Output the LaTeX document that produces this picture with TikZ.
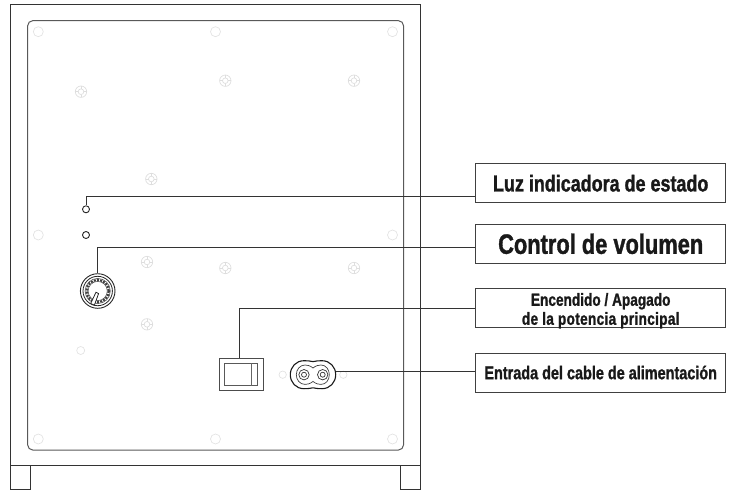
\documentclass[tikz,border=0pt]{standalone}
\usepackage{fontspec}
\newfontfamily\lblfont[FakeStretch=0.78,FakeBold=1.2]{Liberation Sans Bold}
\newcommand{\track}[1]{\addfontfeature{LetterSpace=#1}}
\tikzset{x=1pt,y=-1pt,
 line/.style={draw=black!80,line width=0.9pt},
 lbl/.style={draw=black!75,line width=0.9pt,inner sep=0pt,align=center,text=black!90,minimum width=250pt,minimum height=39pt},
 pale/.style={draw=black!13,line width=0.7pt},
 paler/.style={draw=black!11,line width=0.7pt},
 leader/.style={draw=black!80,line width=0.8pt},
 dot/.style={circle,draw=black!85,line width=0.9pt,minimum size=7pt,inner sep=0pt}}
\newcommand{\screw}[2]{%
 \draw[pale] (#1,#2) circle (5.7);
 \draw[pale] (#1,#2) circle (2.8);
 \draw[pale] (#1-5.7,#2) -- (#1-2.8,#2) (#1+2.8,#2) -- (#1+5.7,#2) (#1,#2-5.7) -- (#1,#2-2.8) (#1,#2+2.8) -- (#1,#2+5.7);}
\begin{document}
\begin{tikzpicture}
\useasboundingbox (0,0) rectangle (733,493);
% cabinet
\draw[line] (10.7,4.3) rectangle (420.5,465.3);
\draw[line] (10.7,465.3) rectangle (30.3,489);
\draw[line] (400.7,465.3) rectangle (420.5,489);
\draw[draw=black!65,line width=1pt,rounded corners=5pt] (27.7,20.7) rectangle (403.5,450);
% holes
\foreach \x/\y in {38.3/31.7,215.5/31.7,392.5/31.7,38.3/235,392.5/235,38.3/439,215.5/439,392.5/439} { \draw[paler] (\x,\y) circle (5); }
\draw[paler] (80.7,350.5) circle (4);
\draw[paler] (282.7,374.7) circle (3.7);
\draw[paler] (343.3,374.7) circle (3.7);
\foreach \x/\y in {81/91.7,225.3/80.7,354/80.7,151.3/179,147/262,225.3/268,354/268,147/324.3} { \screw{\x}{\y} }
% LEDs
\node[dot] (led) at (86,209.3) {};
\node[dot] (ledb) at (86,235) {};
% knob
\node[circle,draw=black!85,line width=0.9pt,minimum size=34.6pt,inner sep=0pt] (knob) at (97.7,291) {};
\draw[black!85,line width=0.8pt] (knob.center) circle (14.7);
\draw[black!75,line width=0.5pt] (knob.center) circle (12.6);
\draw[black!75,line width=0.5pt] (knob.center) circle (9.6);
\draw[black!75,line width=2.2pt,dash pattern=on 2pt off 1.2pt] (knob.center) circle (11.1);
\draw[black!85,line width=0.8pt,fill=white] (90.7,303.5) -- (94.4,305.2) -- (98.6,293.5) -- (96,292.2) -- cycle;
% switch
\node[draw=black!70,line width=0.9pt,minimum width=44.5pt,minimum height=32.5pt,inner sep=0pt] (sw) at (241.5,374.5) {};
\draw[draw=black!65,line width=0.8pt] (224.5,363) rectangle (257,385.5);
\draw[draw=black!60,line width=0.8pt] (251,363) -- (251,385.5);
% power inlet
\node[minimum width=45.4pt,minimum height=28pt,inner sep=0pt] (inlet) at (313,374.7) {};
\draw[draw=black!90,line width=1.1pt] (313,361.6) .. controls (316,360.9) and (319,360.7) .. (322,360.7)
 .. controls (330,360.7) and (335.7,367) .. (335.7,374.7)
 .. controls (335.7,382.4) and (330,388.7) .. (322,388.7)
 .. controls (319,388.7) and (316,388.5) .. (313,387.8)
 .. controls (310,388.5) and (307,388.7) .. (304,388.7)
 .. controls (296,388.7) and (290.3,382.4) .. (290.3,374.7)
 .. controls (290.3,367) and (296,360.7) .. (304,360.7)
 .. controls (307,360.7) and (310,360.9) .. (313,361.6) -- cycle;
\draw[draw=black!75,line width=0.7pt] (313,368) .. controls (316,365.5) and (319,365) .. (321,365)
 .. controls (326,365) and (329.3,369.5) .. (329.3,374.7)
 .. controls (329.3,380) and (326,384.4) .. (321,384.4)
 .. controls (319,384.4) and (316,384) .. (313,381.4)
 .. controls (310,384) and (307,384.4) .. (305,384.4)
 .. controls (300,384.4) and (296.3,380) .. (296.3,374.7)
 .. controls (296.3,369.5) and (300,365) .. (305,365)
 .. controls (307,365) and (310,365.5) .. (313,368) -- cycle;
\foreach \x in {304,322.7} {
 \draw[draw=black!80,line width=0.7pt] (\x,374.7) circle (5.2);
 \draw[draw=black!80,line width=0.7pt] (\x,374.7) circle (2.5);}
% labels
\node[lbl,font=\lblfont\fontsize{23}{25}\selectfont] (b1) at (600.7,183.2) {Luz indicadora de estado};
\node[lbl,font=\lblfont\fontsize{28}{30}\selectfont] (b2) at (600.7,243.8) {Control de volumen};
\node[lbl,font=\lblfont\fontsize{17.5}{19}\selectfont] (b3) at (600.7,307.8) {\raisebox{-8pt}[0pt][0pt]{\begin{tabular}{@{}c@{}}Encendido / Apagado\\\track{1.7}de la potencia principal\end{tabular}}};
\node[lbl,font=\lblfont\fontsize{18.5}{20}\selectfont] (b4) at (600.7,372.5) {Entrada del cable de alimentación};
% leaders
\coordinate (t1) at (b1.west |- 0,196.5);
\coordinate (t2) at (b2.west |- 0,247);
\coordinate (t3) at (b3.west |- 0,308);
\coordinate (t4) at (b4.west |- 0,371.7);
\draw[leader] (led.north) |- (t1);
\draw[leader] (knob.north) |- (t2);
\draw[leader] (sw.north -| 239.5,0) |- (t3);
\draw[leader] (inlet.east |- t4) -- (t4);
\end{tikzpicture}
\end{document}
